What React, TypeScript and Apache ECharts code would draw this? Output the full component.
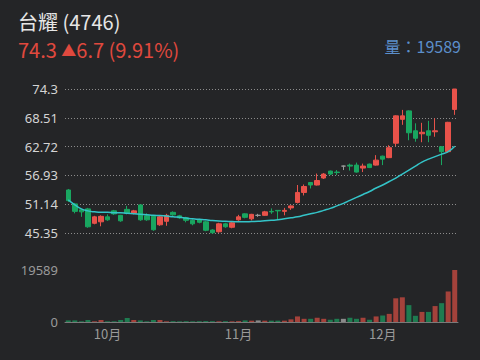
import React, { useEffect, useRef } from 'react';
import * as echarts from 'echarts';

const dates = [
  '09/21', '09/22', '09/25', '09/26', '09/27', '09/28',
  '10/02', '10/03', '10/04', '10/05', '10/06', '10/11', '10/12', '10/13', '10/16', '10/17',
  '10/18', '10/19', '10/20', '10/23', '10/24', '10/25', '10/26', '10/27', '10/30', '10/31',
  '11/01', '11/02', '11/03', '11/06', '11/07', '11/08', '11/09', '11/10', '11/13', '11/14',
  '11/15', '11/16', '11/17', '11/20', '11/21', '11/22', '11/23', '11/24', '11/27', '11/28',
  '11/29', '11/30',
  '12/01', '12/04', '12/05', '12/06', '12/07', '12/08', '12/11', '12/12', '12/13', '12/14',
  '12/15', '12/18',
];

const opens = [
  54.0, 51.2, 50.0, 50.2, 47.3, 47.6, 48.6, 49.8, 48.9, 50.1,
  49.3, 51.0, 48.8, 48.7, 47.0, 47.7, 49.5, 48.8, 48.4, 47.9,
  48.0, 47.6, 45.95, 45.6, 47.2, 46.5, 48.0, 49.2, 48.2, 48.9,
  48.9, 49.7, 49.9, 49.7, 50.4, 51.5, 53.5, 55.5, 55.0, 56.4,
  57.8, 57.6, 58.8, 59.0, 59.0, 58.4, 59.2, 59.0, 60.8, 60.5,
  63.4, 68.2, 69.9, 65.9, 65.3, 65.9, 65.7, 62.7, 61.7, 70.2,
];
const closes = [
  51.85, 49.7, 49.6, 46.6, 48.6, 48.7, 48.0, 49.2, 47.8, 49.3,
  49.8, 48.0, 48.0, 46.0, 48.6, 48.9, 49.0, 48.4, 47.9, 47.2,
  47.5, 45.9, 45.4, 47.2, 46.6, 47.4, 48.6, 48.5, 49.1, 48.9,
  49.6, 49.6, 49.8, 49.9, 50.8, 53.5, 54.7, 55.0, 55.9, 57.2,
  57.2, 57.5, 58.8, 58.8, 57.6, 58.8, 58.5, 60.0, 60.2, 62.5,
  68.9, 68.9, 65.5, 64.4, 65.6, 65.0, 65.9, 61.7, 67.6, 74.3,
];
const lows = [
  51.6, 49.3, 48.6, 46.4, 47.1, 46.7, 47.8, 49.0, 47.6, 49.1,
  49.1, 47.8, 47.8, 45.8, 46.8, 46.8, 48.8, 48.2, 47.5, 46.9,
  47.3, 45.7, 45.2, 45.4, 46.4, 46.3, 47.8, 48.3, 47.9, 48.6,
  48.8, 49.2, 48.0, 48.9, 50.0, 51.3, 52.9, 54.3, 54.9, 56.2,
  57.0, 57.0, 58.0, 57.9, 57.5, 57.6, 58.4, 58.9, 59.0, 60.4,
  62.8, 67.1, 64.0, 63.7, 63.6, 63.6, 64.7, 59.0, 61.5, 69.1,
];
const highs = [
  54.2, 51.4, 50.2, 50.4, 48.8, 48.9, 49.1, 50.0, 49.0, 50.8,
  50.0, 51.1, 49.3, 48.9, 48.8, 49.2, 49.7, 49.0, 48.6, 48.1,
  48.2, 47.8, 46.1, 47.4, 47.4, 47.6, 49.0, 49.3, 49.2, 49.2,
  49.8, 50.3, 49.9, 50.4, 50.9, 55.0, 55.1, 55.6, 57.3, 57.4,
  57.9, 58.0, 58.9, 59.3, 59.5, 59.3, 59.3, 61.0, 60.9, 63.0,
  69.0, 70.1, 70.0, 67.4, 67.5, 67.9, 68.4, 62.8, 67.7, 74.3,
];
const volumes = [
  600, 600, 250, 750, 250, 750, 250, 250, 750, 1470,
  750, 600, 250, 750, 750, 250, 300, 250, 300, 250,
  300, 350, 300, 250, 300, 250, 350, 600, 500, 600,
  500, 500, 500, 500, 1000, 2100, 1200, 1200, 1600, 1200,
  850, 1200, 1200, 1600, 1200, 1600, 850, 2100, 2450, 3060,
  8930, 9300, 6360, 2330, 3800, 3800, 6000, 7100, 11500, 19589,
];
const ma = [
  52.0, 51.0, 50.2, 49.8, 49.6, 49.5, 49.5, 49.4, 49.4, 49.3,
  49.2, 49.1, 49.0, 48.9, 48.85, 48.75, 48.6, 48.5, 48.35, 48.2,
  48.1, 48.0, 47.85, 47.75, 47.7, 47.65, 47.6, 47.6, 47.65, 47.7,
  47.8, 47.9, 48.0, 48.2, 48.4, 48.6, 48.9, 49.2, 49.5, 49.9,
  50.3, 50.8, 51.3, 51.9, 52.5, 53.1, 53.7, 54.4, 55.0, 55.7,
  56.4, 57.2, 58.0, 58.8, 59.6, 60.2, 60.7, 61.2, 61.7, 62.8,
];
const priceTicks = [45.35, 51.14, 56.93, 62.72, 68.51, 74.3];
const volumeTicks = [0, 19589];

const UP = '#e8524a';
const DOWN = '#19a660';
const FLAT = '#9a9a9a';
const VUP = '#a4423b';
const VDOWN = '#1e7b50';
const VFLAT = '#8a8a8a';
const BG = '#242527';

export default function App() {
  const ref = useRef<HTMLDivElement>(null);
  useEffect(() => {
    if (!ref.current) return;
    const chart = echarts.init(ref.current, undefined, { renderer: 'svg' });

    const candleData = dates.map((_, i) => {
      const v = [opens[i], closes[i], lows[i], highs[i]];
      if (opens[i] === closes[i]) {
        return {
          value: v,
          itemStyle: { color: FLAT, color0: FLAT, borderColor: FLAT, borderColor0: FLAT, borderColorDoji: FLAT },
        };
      }
      return { value: v };
    });
    const volData = volumes.map((v, i) => ({
      value: v,
      itemStyle: {
        color: closes[i] > opens[i] ? VUP : closes[i] < opens[i] ? VDOWN : VFLAT,
      },
    }));

    const monthLabel = (idx: number) => {
      const m = parseInt(dates[idx].slice(0, 2), 10);
      return m + '月';
    };
    const isMonthStart = (idx: number) =>
      idx > 0 && dates[idx].slice(0, 2) !== dates[idx - 1].slice(0, 2);

    const pMin = priceTicks[0];
    const pMax = priceTicks[priceTicks.length - 1];
    const pInt = +(priceTicks[1] - priceTicks[0]).toFixed(2);

    chart.setOption({
      animation: false,
      backgroundColor: BG,
      grid: [
        { left: 65, right: 22, top: 89, height: 144 },
        { left: 65, right: 22, top: 270, height: 52 },
      ],
      xAxis: [
        {
          type: 'category',
          gridIndex: 0,
          data: dates,
          boundaryGap: true,
          axisLine: { show: false },
          axisTick: { show: false },
          axisLabel: { show: false },
          splitLine: { show: false },
        },
        {
          type: 'category',
          gridIndex: 1,
          data: dates,
          boundaryGap: true,
          axisLine: { show: true, lineStyle: { color: '#7a7a7a', width: 1 } },
          axisTick: { show: false },
          axisLabel: {
            show: true,
            color: '#9a9a9a',
            fontSize: 13,
            margin: 5,
            fontFamily: '"Noto Sans CJK TC", sans-serif',
            interval: (idx: number) => isMonthStart(idx),
            formatter: (_v: string, idx: number) => monthLabel(idx),
          },
          splitLine: { show: false },
        },
      ],
      yAxis: [
        {
          type: 'value',
          gridIndex: 0,
          min: pMin,
          max: pMax,
          interval: pInt,
          axisLine: { show: false },
          axisTick: { show: false },
          axisLabel: {
            color: '#d4d4d4',
            fontSize: 13,
            margin: 7,
            fontFamily: '"Noto Sans", sans-serif',
            formatter: (v: number) => String(+v.toFixed(2)),
          },
          splitLine: { show: true, lineStyle: { color: '#8c8c8c', type: [1, 2], width: 1 } },
        },
        {
          type: 'value',
          gridIndex: 1,
          min: volumeTicks[0],
          max: volumeTicks[1],
          interval: volumeTicks[1] - volumeTicks[0],
          axisLine: { show: false },
          axisTick: { show: false },
          axisLabel: {
            color: '#9a9a9a',
            fontSize: 13,
            margin: 7,
            fontFamily: '"Noto Sans", sans-serif',
            formatter: (v: number) => String(Math.round(v)),
          },
          splitLine: { show: false },
        },
      ],
      series: [
        {
          type: 'candlestick',
          xAxisIndex: 0,
          yAxisIndex: 0,
          data: candleData,
          barWidth: 5,
          itemStyle: {
            color: UP,
            color0: DOWN,
            borderColor: UP,
            borderColor0: DOWN,
            borderColorDoji: FLAT,
            borderWidth: 1,
          },
        },
        {
          type: 'line',
          xAxisIndex: 0,
          yAxisIndex: 0,
          data: ma,
          smooth: true,
          symbol: 'none',
          lineStyle: { color: '#34c4c8', width: 1.5 },
          z: 3,
        },
        {
          type: 'bar',
          xAxisIndex: 1,
          yAxisIndex: 1,
          data: volData,
          barWidth: 5,
        },
      ],
      graphic: [
        {
          type: 'text',
          left: 18,
          top: 11,
          style: {
            text: '台耀 (4746)',
            fill: '#e6e6e6',
            font: '20px "Noto Sans CJK TC", sans-serif',
            lineHeight: 20,
          },
        },
        {
          type: 'text',
          left: 18,
          top: 39,
          style: {
            text: '74.3 {t|▲}6.7 (9.91%)',
            fill: '#e0493e',
            font: '20px "Noto Sans CJK TC", sans-serif',
            lineHeight: 20,
            rich: {
              t: {
                fill: '#e0493e',
                fontSize: 15,
                fontFamily: '"Noto Sans CJK TC", sans-serif',
                lineHeight: 20,
              },
            },
          },
        },
        {
          type: 'text',
          right: 19,
          top: 38,
          style: {
            text: '量：19589',
            fill: '#5c8fcb',
            font: '16px "Noto Sans CJK TC", sans-serif',
            lineHeight: 16,
          },
        },
      ],
    });
    return () => chart.dispose();
  }, []);
  return (
    <div
      ref={ref}
      style={{ position: 'fixed', left: 0, top: 0, width: 480, height: 360, background: BG }}
    />
  );
}
